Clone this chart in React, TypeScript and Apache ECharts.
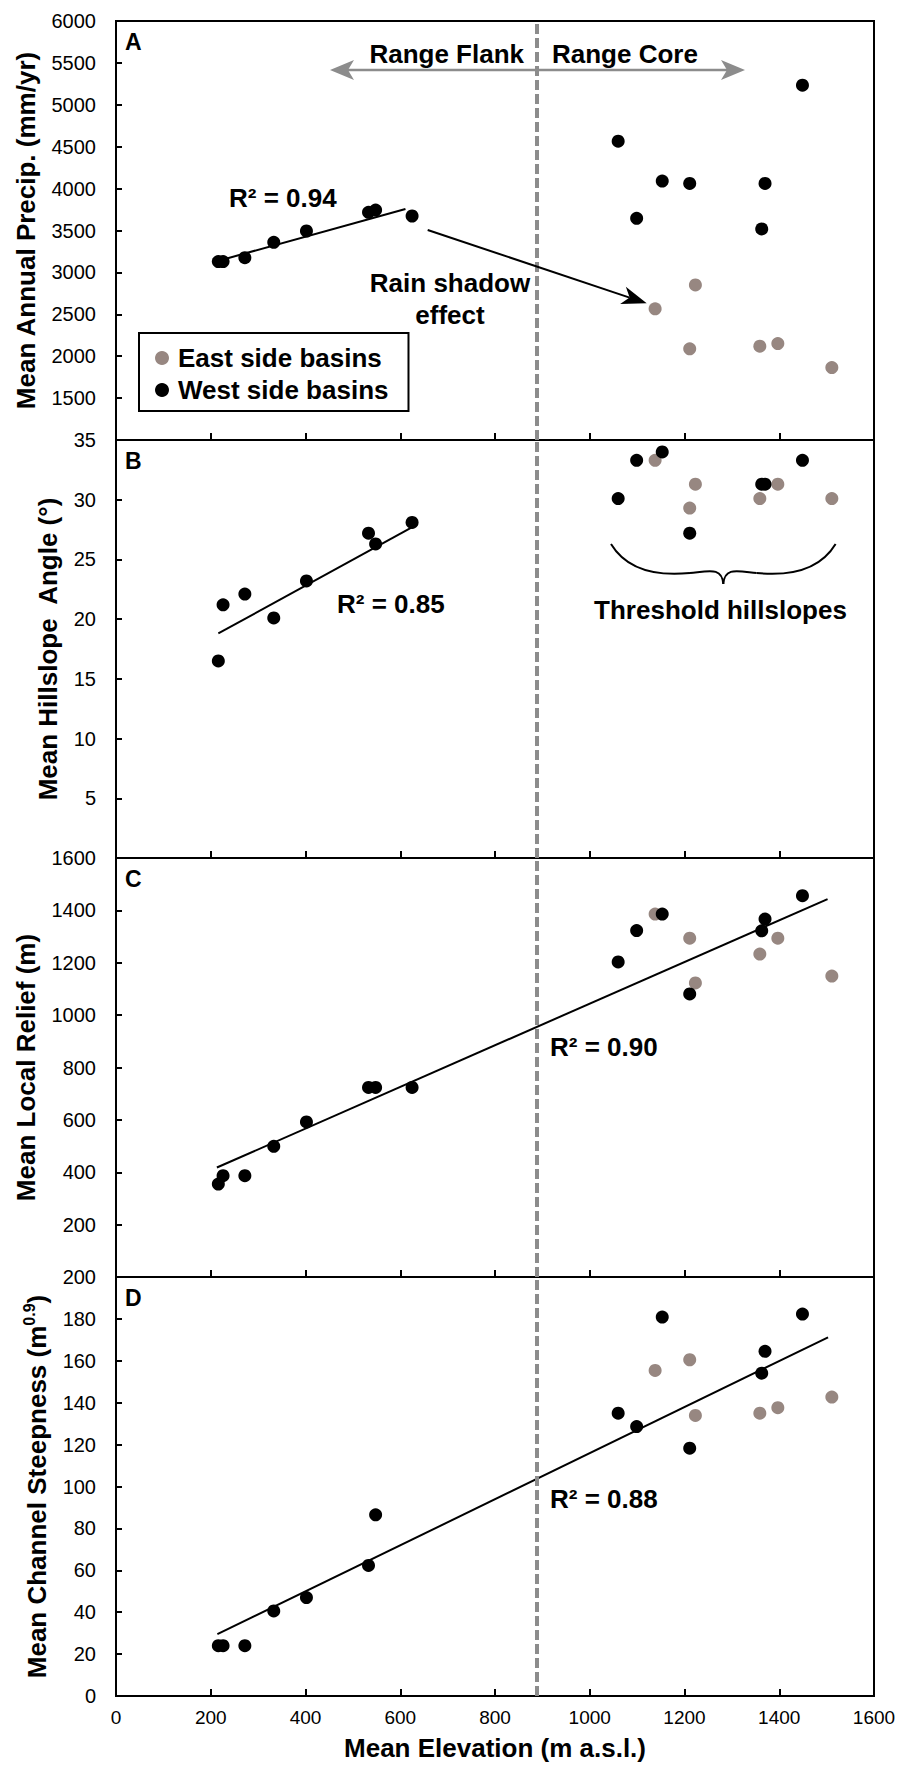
import React, { useEffect, useRef } from "react";
import * as echarts from "echarts";

const FONT = '"Liberation Sans", Arial, Helvetica, sans-serif';
const GREY_PT = "#978781";
const GREY_LN = "#8c8c8c";

// Elevations (m a.s.l.)
const flankElev = [216, 226, 272, 333, 402, 533, 548, 625];
const coreWestElev = [1060, 1099, 1153, 1211, 1363, 1370, 1449];
const eastElev = [1138, 1211, 1223, 1359, 1397, 1511];
const dividerElev = 888;

// Panel A: Mean annual precipitation (mm/yr)
const precipFlank = [3130, 3130, 3176, 3359, 3494, 3717, 3744, 3673];
const precipCoreWest = [4566, 3645, 4090, 4062, 3518, 4062, 5234];
const precipEast = [2565, 2088, 2851, 2120, 2151, 1865];
const precipTrendX = [215, 611];
const precipTrendY = [3137, 3756];

// Panel B: Mean hillslope angle (deg)
const slopeFlank = [16.5, 21.2, 22.1, 20.1, 23.2, 27.2, 26.3, 28.1];
const slopeCoreWest = [30.1, 33.3, 34.0, 27.2, 31.3, 31.3, 33.3];
const slopeEast = [33.3, 29.3, 31.3, 30.1, 31.3, 30.1];
const slopeTrendX = [216, 634];
const slopeTrendY = [18.8, 27.9];

// Panel C: Mean local relief (m)
const reliefFlank = [355, 387, 387, 499, 592, 724, 724, 724];
const reliefCoreWest = [1203, 1323, 1386, 1081, 1322, 1367, 1456];
const reliefEast = [1386, 1294, 1123, 1233, 1294, 1149];
const reliefTrendX = [213, 1502];
const reliefTrendY = [418, 1443];

// Panel D: Mean channel steepness (m^0.9)
const ksnFlank = [24, 24, 24, 40.6, 47, 62.3, 86.5, null];
const ksnCoreWest = [135, 128.6, 180.9, 118.3, 154.1, 164.5, 182.3];
const ksnEast = [155.4, 160.5, 133.9, 135, 137.6, 142.7];
const ksnTrendX = [214, 1503];
const ksnTrendY = [29.5, 171.2];

const xTicks = { min: 0, max: 1600, interval: 200 };

const panels = [
  {
    letter: "A", top: 21, height: 419, min: 1000, max: 6000, interval: 500, showMin: false,
    name: "Mean Annual Precip. (mm/yr)", gap: 67,
    flank: precipFlank, core: precipCoreWest, east: precipEast, tx: precipTrendX, ty: precipTrendY,
  },
  {
    letter: "B", top: 440, height: 418, min: 0, max: 35, interval: 5, showMin: false,
    name: "Mean Hillslope  Angle (°)", gap: 51,
    flank: slopeFlank, core: slopeCoreWest, east: slopeEast, tx: slopeTrendX, ty: slopeTrendY,
  },
  {
    letter: "C", top: 858, height: 419, min: 0, max: 1600, interval: 200, showMin: false,
    name: "Mean Local Relief (m)", gap: 67,
    flank: reliefFlank, core: reliefCoreWest, east: reliefEast, tx: reliefTrendX, ty: reliefTrendY,
  },
  {
    letter: "D", top: 1277, height: 419, min: 0, max: 200, interval: 20, showMin: true,
    name: "Mean Channel Steepness (m{sup|0.9})", gap: 63,
    flank: ksnFlank, core: ksnCoreWest, east: ksnEast, tx: ksnTrendX, ty: ksnTrendY,
  },
];

const pairs = (xs: number[], ys: (number | null)[]) =>
  xs.map((x, i) => [x, ys[i]]).filter((p) => p[1] !== null && p[1] !== undefined);

function buildOption() {
  const grid = panels.map((p) => ({
    left: 116, width: 758, top: p.top, height: p.height,
    show: true, borderColor: "#000", borderWidth: 2, backgroundColor: "transparent",
  }));

  const xAxis = panels.map((p, i) => ({
    type: "value", gridIndex: i, ...xTicks,
    axisLine: { show: true, lineStyle: { color: "#000", width: 2 } },
    axisTick: { show: true, inside: true, length: 7, lineStyle: { color: "#000", width: 2 } },
    axisLabel: {
      show: i === 3, margin: 12, color: "#000", fontSize: 19, fontFamily: FONT,
      formatter: (v: number) => String(v),
    },
    splitLine: { show: false },
    name: i === 3 ? "Mean Elevation (m a.s.l.)" : "",
    nameLocation: "middle", nameGap: 37,
    nameTextStyle: { fontSize: 26, fontWeight: "bold", color: "#000", fontFamily: FONT, lineHeight: 30 },
  }));

  const yAxis = panels.map((p, i) => ({
    type: "value", gridIndex: i, min: p.min, max: p.max, interval: p.interval,
    axisLine: { show: true, lineStyle: { color: "#000", width: 2 } },
    axisTick: { show: true, inside: true, length: 6, lineStyle: { color: "#000", width: 2 } },
    axisLabel: {
      margin: 20, color: "#000", fontSize: 20, fontFamily: FONT, showMinLabel: p.showMin,
      formatter: (v: number) => String(v),
    },
    splitLine: { show: false },
    name: p.name, nameLocation: "middle", nameRotate: 90, nameGap: p.gap,
    nameTextStyle: {
      fontSize: 26, fontWeight: "bold", color: "#000", fontFamily: FONT, lineHeight: 30,
      rich: {
        sup: { fontSize: 16, fontWeight: "bold", color: "#000", fontFamily: FONT, lineHeight: 12, verticalAlign: "top" },
      },
    },
  }));

  const series: any[] = [];
  panels.forEach((p, i) => {
    series.push({
      type: "line", xAxisIndex: i, yAxisIndex: i, data: pairs(p.tx, p.ty),
      symbol: "none", lineStyle: { color: "#000", width: 2 }, silent: true,
      markLine: {
        silent: true, symbol: ["none", "none"], label: { show: false },
        lineStyle: { color: GREY_LN, width: 4, type: [10, 4] },
        data: [{ xAxis: dividerElev }],
      },
    });
    series.push({
      type: "scatter", name: "East side basins", xAxisIndex: i, yAxisIndex: i,
      data: pairs(eastElev, p.east), symbol: "circle", symbolSize: 13,
      itemStyle: { color: GREY_PT, opacity: 1 },
    });
    series.push({
      type: "scatter", name: "West side basins", xAxisIndex: i, yAxisIndex: i,
      data: [...pairs(flankElev, p.flank), ...pairs(coreWestElev, p.core)],
      symbol: "circle", symbolSize: 13, itemStyle: { color: "#000", opacity: 1 },
    });
  });

  const txt = (text: string, x: number, y: number, align = "left", size = 26, extra: any = {}) => ({
    type: "text", x, y, z: 100,
    style: {
      text, fill: "#000", fontSize: size, fontWeight: "bold", fontFamily: FONT,
      align, verticalAlign: "middle", ...extra,
    },
  });

  // Black rain-shadow arrow geometry
  const ax0 = 427.7, ay0 = 230, ax1 = 646.7, ay1 = 303.3;
  const dx = ax1 - ax0, dy = ay1 - ay0, L = Math.hypot(dx, dy);
  const ux = dx / L, uy = dy / L, px = -uy, py = ux;
  const hl = 25, hw = 9, notch = 18;
  const bx = ax1 - hl * ux, by = ay1 - hl * uy;
  const nx = ax1 - notch * ux, ny = ay1 - notch * uy;

  const graphic: any[] = [
    ...panels.map((p) => txt(p.letter, 125, p.top + 20.5, "left", 23)),
    // Range flank / core arrows
    { type: "line", z: 100, shape: { x1: 345, y1: 70, x2: 730, y2: 70 }, style: { stroke: GREY_LN, lineWidth: 2.5 } },
    { type: "polygon", z: 100, shape: { points: [[330, 70], [354, 60], [348, 70], [354, 80]] }, style: { fill: GREY_LN } },
    { type: "polygon", z: 100, shape: { points: [[745, 70], [721, 60], [727, 70], [721, 80]] }, style: { fill: GREY_LN } },
    txt("Range Flank", 524, 54, "right"),
    txt("Range Core", 552, 54, "left"),
    // R^2 labels
    txt("R² = 0.94", 229, 198),
    txt("R² = 0.85", 337, 604),
    txt("R² = 0.90", 550, 1047),
    txt("R² = 0.88", 550, 1499),
    // rain shadow
    txt("Rain shadow\neffect", 450, 299, "center", 26, { lineHeight: 32 }),
    { type: "line", z: 100, shape: { x1: ax0, y1: ay0, x2: nx, y2: ny }, style: { stroke: "#000", lineWidth: 2 } },
    {
      type: "polygon", z: 100,
      shape: { points: [[ax1, ay1], [bx + hw * px, by + hw * py], [nx, ny], [bx - hw * px, by - hw * py]] },
      style: { fill: "#000" },
    },
    // threshold brace
    { type: "bezierCurve", z: 100, shape: { x1: 611, y1: 544, cpx1: 628, cpy1: 572, cpx2: 660, cpy2: 576, x2: 690, y2: 573 }, style: { stroke: "#000", lineWidth: 2, fill: null } },
    { type: "bezierCurve", z: 100, shape: { x1: 690, y1: 573, cpx1: 710, cpy1: 571, cpx2: 722, cpy2: 567, x2: 723.3, y2: 584 }, style: { stroke: "#000", lineWidth: 2, fill: null } },
    { type: "bezierCurve", z: 100, shape: { x1: 835.6, y1: 544, cpx1: 818.6, cpy1: 572, cpx2: 786.6, cpy2: 576, x2: 756.6, y2: 573 }, style: { stroke: "#000", lineWidth: 2, fill: null } },
    { type: "bezierCurve", z: 100, shape: { x1: 756.6, y1: 573, cpx1: 736.6, cpy1: 571, cpx2: 724.6, cpy2: 567, x2: 723.3, y2: 584 }, style: { stroke: "#000", lineWidth: 2, fill: null } },
    txt("Threshold hillslopes", 720.5, 610, "center"),
  ];

  return {
    animation: false,
    backgroundColor: "#fff",
    textStyle: { fontFamily: FONT },
    grid, xAxis, yAxis, series, graphic,
    legend: {
      data: ["East side basins", "West side basins"],
      orient: "vertical", left: 139, top: 333, icon: "circle",
      itemWidth: 14, itemHeight: 14, itemGap: 6, selectedMode: false,
      padding: [12, 20, 8, 16], borderColor: "#000", borderWidth: 2, backgroundColor: "#fff",
      textStyle: { fontSize: 26, fontWeight: "bold", color: "#000", fontFamily: FONT, padding: [0, 0, 0, 4] },
    },
  };
}

export default function App() {
  const ref = useRef<HTMLDivElement>(null);
  useEffect(() => {
    const chart = echarts.init(ref.current!, null, { renderer: "svg" });
    chart.setOption(buildOption() as any);
    return () => chart.dispose();
  }, []);
  return (
    <div
      ref={ref}
      style={{ position: "absolute", left: 0, top: 0, width: 900, height: 1769, background: "#fff" }}
    />
  );
}
